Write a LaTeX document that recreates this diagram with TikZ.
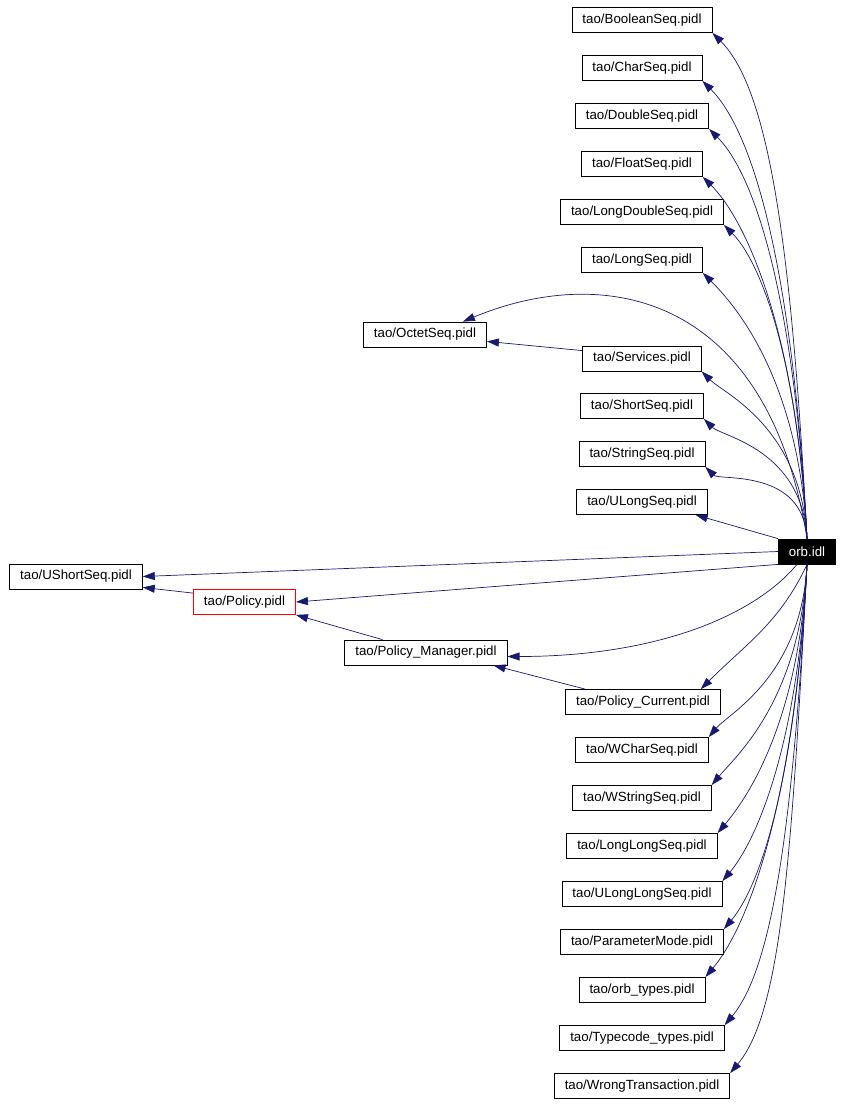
\documentclass[tikz,border=0pt]{standalone}
\usepackage{fontspec}
\setmainfont{Liberation Sans}
\usetikzlibrary{arrows.meta}
\definecolor{incblue}{RGB}{25,25,112}
\begin{document}
\begin{tikzpicture}[x=1pt,y=-1pt,
  pidl/.style={draw=black,line width=0.8pt,inner xsep=10.5pt,inner ysep=0pt,minimum height=25pt,font=\fontsize{13.3}{14}\selectfont},
  incl/.style={draw=incblue,line width=0.7pt,-{Triangle[length=12pt,width=8pt]}},
  up/.style={out=93,in=-45,out looseness=1.45,in looseness=0.4},
  down/.style={out=-93,in=50,out looseness=1.45,in looseness=0.4}]
\useasboundingbox (0,0) rectangle (843,1104);
\node[pidl] (bool) at (642,20) {tao/BooleanSeq.pidl};
\node[pidl] (chr) at (642,68) {tao/CharSeq.pidl};
\node[pidl] (dbl) at (642,116) {tao/DoubleSeq.pidl};
\node[pidl] (flt) at (642,164) {tao/FloatSeq.pidl};
\node[pidl] (ldbl) at (642,212) {tao/LongDoubleSeq.pidl};
\node[pidl] (lng) at (642,260) {tao/LongSeq.pidl};
\node[pidl] (oct) at (425,334.5) {tao/OctetSeq.pidl};
\node[pidl] (svc) at (642,358.5) {tao/Services.pidl};
\node[pidl] (shrt) at (642,406) {tao/ShortSeq.pidl};
\node[pidl] (str) at (642,454) {tao/StringSeq.pidl};
\node[pidl] (ulng) at (642,502) {tao/ULongSeq.pidl};
\node[pidl,fill=black,text=white] (orb) at (807,551.5) {orb.idl};
\node[pidl] (ushrt) at (76,576.5) {tao/UShortSeq.pidl};
\node[pidl,draw=red] (pol) at (244.5,602) {tao/Policy.pidl};
\node[pidl] (pman) at (426,652.5) {tao/Policy\_Manager.pidl};
\node[pidl] (pcur) at (643,702) {tao/Policy\_Current.pidl};
\node[pidl] (wchr) at (642,750) {tao/WCharSeq.pidl};
\node[pidl] (wstr) at (642,798) {tao/WStringSeq.pidl};
\node[pidl] (llng) at (642,846) {tao/LongLongSeq.pidl};
\node[pidl] (ullng) at (642,894) {tao/ULongLongSeq.pidl};
\node[pidl] (pmode) at (642,942) {tao/ParameterMode.pidl};
\node[pidl] (otyp) at (642,990) {tao/orb\_types.pidl};
\node[pidl] (tctyp) at (642,1038) {tao/Typecode\_types.pidl};
\node[pidl] (wtr) at (642,1086) {tao/WrongTransaction.pidl};

\draw[incl] (orb.north) to[up] (bool.south east);
\draw[incl] (orb.north) to[up] (chr.south east);
\draw[incl] (orb.north) to[up] (dbl.south east);
\draw[incl] (orb.north) to[up] (flt.south east);
\draw[incl] (orb.north) to[up] (ldbl.south east);
\draw[incl] (orb.north) to[up] (lng.south east);
\draw[incl] (orb.north) .. controls +(-40,-250) and +(137,-57) .. ([xshift=-24pt]oct.north east);
\draw[incl] (orb.north) to[up] (svc.south east);
\draw[incl] ([yshift=-5pt]svc.north west) -- ([yshift=6pt]oct.south east);
\draw[incl] (orb.north) to[up] (shrt.south east);
\draw[incl] (orb.north) to[up] (str.south east);
\draw[incl] (orb.north west) -- ([xshift=-12pt]ulng.south east);
\draw[incl] (orb.west) -- (ushrt.east);
\draw[incl] (orb.south west) -- (pol.east);
\draw[incl] ([yshift=-4pt]pol.north west) -- ([yshift=2pt]ushrt.south east);
\draw[incl] ([xshift=-10pt]orb.south) to[out=-130,in=0,out looseness=0.6,in looseness=1.2] ([yshift=-4pt]pman.east);
\draw[incl] ([xshift=38pt]pman.north west) -- (pol.south east);
\draw[incl] (orb.south) to[out=-115,in=45] ([xshift=-20pt]pcur.north east);
\draw[incl] ([xshift=20pt]pcur.north west) -- ([xshift=-14pt]pman.south east);
\draw[incl] (orb.south) to[down] (wchr.north east);
\draw[incl] (orb.south) to[down] (wstr.north east);
\draw[incl] (orb.south) to[down] (llng.north east);
\draw[incl] (orb.south) to[down] (ullng.north east);
\draw[incl] (orb.south) to[down] (pmode.north east);
\draw[incl] (orb.south) to[down] (otyp.north east);
\draw[incl] (orb.south) to[down] (tctyp.north east);
\draw[incl] (orb.south) to[down] (wtr.north east);
\end{tikzpicture}
\end{document}
